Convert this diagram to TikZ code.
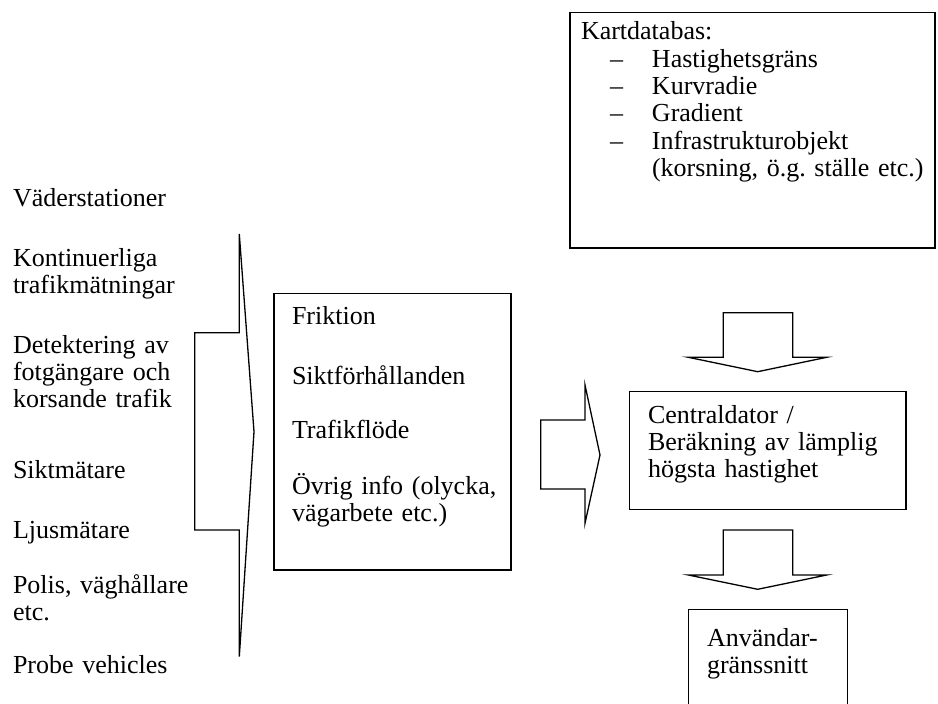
\documentclass[tikz,border=0pt]{standalone}
\usepackage{fontspec}
\setmainfont{Liberation Serif}
\frenchspacing
\begin{document}
\begin{tikzpicture}[x=0.5pt,y=-0.5pt,line width=0.65pt,
  txt/.style={anchor=base west,inner sep=0,outer sep=0,text width=200pt,align=left,
    font=\fontsize{13}{13.4}\selectfont},
  boxnode/.style={draw,anchor=north west,inner sep=0,outer sep=0},
  blockarrow/.style={draw,line join=miter,miter limit=20}]
\clip (0,0) rectangle (938,704);
\fill[white] (0,0) rectangle (938,704);

% boxes
\node[boxnode,minimum width=182.5pt,minimum height=117.65pt] (karta) at (570,12.7) {};
\node[boxnode,minimum width=118.5pt,minimum height=138.35pt] (data) at (274,293.3) {};
\node[boxnode,minimum width=138.35pt,minimum height=58.8pt] (central) at (629.3,391.7) {};
\node[boxnode,minimum width=79.5pt,minimum height=60pt] (anv) at (688.3,609.3) {};

% block arrows
\draw[blockarrow] (239.3,234) -- (254,431.7) -- (239.3,656.7) -- (239.3,530)
  -- (194.7,530) -- (194.7,332.7) -- (239.3,332.7) -- cycle;
\draw[blockarrow] (585,385) -- (600,455) -- (585,523.3) -- (585,489)
  -- (540.7,489) -- (540.7,420) -- (585,420) -- cycle;
\draw[blockarrow] (723.3,312.7) -- (792.7,312.7) -- (792.7,357.3) -- (826.7,357.3)
  -- (757.7,371.7) -- (688.3,357.3) -- (723.3,357.3) -- cycle;
\draw[blockarrow] (723.3,530) -- (792.7,530) -- (792.7,575) -- (826.7,575)
  -- (757.7,589.3) -- (688.3,575) -- (723.3,575) -- cycle;

% left column
\node[txt] (s1) at (13,207) {Väderstationer};
\node[txt] (s2) at (13,267) {Kontinuerliga\\trafikmätningar};
\node[txt] (s3) at (13,354) {Detektering av\\fotgängare och\\korsande trafik};
\node[txt] (s4) at (13,479) {Siktmätare};
\node[txt] (s5) at (13,539) {Ljusmätare};
\node[txt] (s6) at (13,594) {Polis, väghållare\\etc.};
\node[txt] (s7) at (13,674) {Probe vehicles};

% data box content
\node[txt] (d1) at (292,325) {Friktion};
\node[txt] (d2) at (292,385) {Siktförhållanden};
\node[txt] (d3) at (292,439) {Trafikflöde};
\node[txt] (d4) at (292,495) {Övrig info (olycka,\\vägarbete etc.)};

% central
\node[txt] (c1) at (648,424) {Centraldator /\\Beräkning av lämplig\\högsta hastighet};

% user interface
\node[txt] (u1) at (707,647) {Användar-\\gränssnitt};

% map database
\node[txt,font=\fontsize{13}{13.65}\selectfont] (k1) at (581,40)
 {Kartdatabas:\\
  \makebox[35.5pt][l]{\hspace*{14.5pt}–}Hastighetsgräns\\
  \makebox[35.5pt][l]{\hspace*{14.5pt}–}Kurvradie\\
  \makebox[35.5pt][l]{\hspace*{14.5pt}–}Gradient\\
  \makebox[35.5pt][l]{\hspace*{14.5pt}–}Infrastrukturobjekt\\
  \hspace*{35.5pt}(korsning, ö.g. ställe etc.)};
\end{tikzpicture}
\end{document}
